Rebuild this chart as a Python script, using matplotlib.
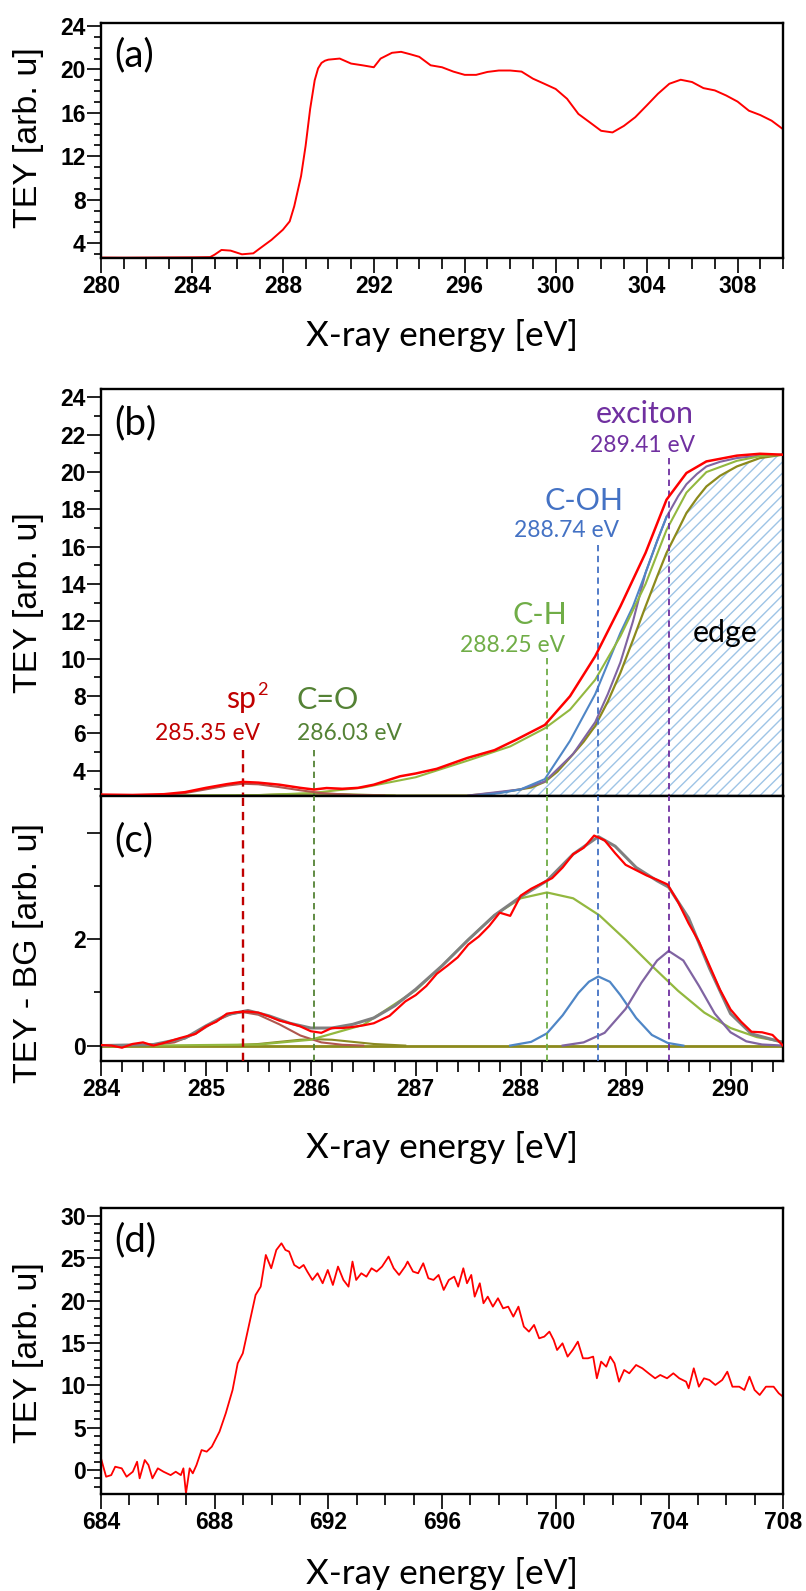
import matplotlib
matplotlib.use('Agg')
import matplotlib.pyplot as plt
from matplotlib import font_manager as fm
from matplotlib.ticker import MultipleLocator, FixedLocator

W, H, DPI = 806, 1591, 100

# ---------------- data ----------------
# (a) C K-edge overview
a_energy = [280.0, 281.0, 282.0, 283.0, 284.0, 284.8, 285.0, 285.3, 285.7, 286.2, 286.7, 287.0, 287.5, 288.0, 288.3,
            288.5, 288.8, 289.0, 289.2, 289.4, 289.55, 289.7, 289.85, 290.0, 290.5, 291.0, 291.5, 292.0, 292.3,
            292.8, 293.2, 293.6,
            294.0, 294.5, 295.0, 295.5, 296.0, 296.5, 297.0, 297.5, 298.0, 298.5, 299.0, 299.5, 300.0, 300.5, 301.0,
            301.5, 302.0, 302.5, 303.0, 303.5, 304.0, 304.5, 305.0, 305.5, 306.0, 306.5, 307.0, 307.5, 308.0, 308.5,
            309.0, 309.5, 310.0]
a_tey = [2.68, 2.67, 2.68, 2.69, 2.70, 2.72, 2.95, 3.38, 3.32, 2.98, 3.07, 3.54, 4.31, 5.24, 6.01,
         7.4, 10.18, 12.96, 16.36, 19.0, 20.1, 20.6, 20.8, 20.9, 21.0, 20.54, 20.38, 20.2, 21.0,
         21.53, 21.62, 21.4,
         21.16, 20.38, 20.2, 19.8, 19.5, 19.5, 19.77, 19.9, 19.9, 19.8, 19.15, 18.68, 18.2, 17.3, 15.9,
         15.13, 14.35, 14.2, 14.8, 15.6, 16.67, 17.76, 18.68, 19.05, 18.84, 18.28, 18.07, 17.6, 17.04, 16.2,
         15.8, 15.28, 14.5]

# (b) measured spectrum and cumulative fit curves
b_meas_x = [284.0, 284.3, 284.6, 284.8, 285.0, 285.2, 285.35, 285.5, 285.7, 285.9, 286.03, 286.15, 286.3, 286.45,
            286.6, 286.85, 287.0, 287.2, 287.49, 287.75, 287.96, 288.23, 288.47, 288.71, 288.95, 289.19, 289.39,
            289.58, 289.77, 290.06, 290.28, 290.5]
b_meas_y = [2.72, 2.70, 2.74, 2.85, 3.08, 3.28, 3.40, 3.36, 3.25, 3.08, 2.99, 3.07, 3.03, 3.08,
            3.25, 3.7, 3.85, 4.1, 4.68, 5.1, 5.67, 6.45, 7.99, 10.13, 12.8, 15.67, 18.52,
            19.95, 20.57, 20.88, 20.98, 20.93]
b_edge_x = [284.0, 287.5, 287.8, 288.0, 288.1, 288.23, 288.35, 288.47, 288.6, 288.71, 288.83, 288.95, 289.07,
            289.19, 289.3, 289.39, 289.5, 289.58, 289.68, 289.77, 289.9, 290.06, 290.28, 290.5]
b_edge_y = [2.66, 2.67, 2.83, 3.0, 3.1, 3.4, 3.95, 4.7, 5.55, 6.4, 7.7, 9.24, 11.0,
            12.8, 14.4, 15.67, 16.9, 17.81, 18.6, 19.23, 19.8, 20.3, 20.75, 20.93]
b_exc_x = [287.5, 288.0, 288.23, 288.5, 288.71, 288.83, 288.95, 289.07, 289.19, 289.3, 289.39, 289.5, 289.58,
           289.68, 289.77, 289.9, 290.06, 290.28, 290.5]
b_exc_y = [2.67, 3.0, 3.42, 4.9, 6.6, 8.1, 9.8, 12.0, 14.6, 16.3, 17.6, 18.7, 19.35,
           19.9, 20.3, 20.55, 20.75, 20.88, 20.93]
b_coh_x = [287.6, 287.8, 288.0, 288.23, 288.47, 288.71, 288.95, 289.07, 289.19, 289.3, 289.39]
b_coh_y = [2.68, 2.8, 3.0, 3.55, 5.6, 8.1, 11.38, 12.8, 14.6, 16.3, 17.6]
b_ch_x = [284.0, 285.5, 286.0, 286.5, 287.0, 287.5, 287.9, 288.23, 288.47, 288.71, 288.95, 289.19, 289.39,
          289.58, 289.77, 290.06, 290.28, 290.5]
b_ch_y = [2.66, 2.69, 2.8, 3.1, 3.65, 4.55, 5.3, 6.27, 7.27, 8.87, 11.2, 14.0, 16.9,
          18.9, 20.0, 20.6, 20.85, 20.93]
b_sp2_x = [284.3, 284.6, 284.8, 285.0, 285.2, 285.35, 285.5, 285.7, 285.9, 286.1, 286.4, 286.7]
b_sp2_y = [2.66, 2.7, 2.8, 3.0, 3.2, 3.3, 3.27, 3.12, 2.95, 2.8, 2.7, 2.67]
b_co_x = [285.3, 285.8, 286.03, 286.3, 286.8]
b_co_y = [2.67, 2.75, 2.78, 2.75, 2.67]

# (c) background-subtracted spectrum and Gaussian components
c_meas_x = [284.0, 284.1, 284.2, 284.3, 284.4, 284.5, 284.6, 284.75, 284.9,
            285.0, 285.1, 285.2, 285.3, 285.4, 285.5, 285.6, 285.7, 285.8, 285.9, 286.0, 286.1, 286.2, 286.3,
            286.4, 286.5, 286.6, 286.75, 286.9,
            287.0, 287.1, 287.2, 287.3, 287.4, 287.5, 287.6, 287.7, 287.8, 287.9, 288.0, 288.1, 288.2, 288.3,
            288.4, 288.5, 288.6, 288.7, 288.8, 288.9, 289.0, 289.1, 289.2, 289.3, 289.4, 289.5, 289.6, 289.7,
            289.8, 289.9, 290.0, 290.1, 290.2, 290.3, 290.4, 290.5]
c_meas_y = [0.01, 0.0, -0.04, 0.03, 0.06, 0.0, 0.05, 0.14, 0.22,
            0.36, 0.45, 0.6, 0.63, 0.64, 0.62, 0.55, 0.47, 0.42, 0.36, 0.27, 0.24, 0.33, 0.33,
            0.35, 0.38, 0.42, 0.56, 0.83,
            0.95, 1.12, 1.35, 1.5, 1.66, 1.9, 2.05, 2.25, 2.5, 2.44, 2.82, 2.95, 3.05, 3.15,
            3.35, 3.6, 3.72, 3.95, 3.86, 3.62, 3.4, 3.3, 3.2, 3.12, 3.03, 2.7, 2.3, 1.95,
            1.5, 1.05, 0.68, 0.45, 0.26, 0.25, 0.2, 0.0]
c_fit_x = [284.0, 284.5, 284.8, 285.0, 285.2, 285.4, 285.6, 285.8, 286.0, 286.2, 286.4, 286.6, 286.8, 287.0,
           287.25, 287.5, 287.75, 288.0, 288.25, 288.5, 288.74, 288.9, 289.1, 289.3, 289.41, 289.6, 289.8,
           290.0, 290.2, 290.5]
c_fit_y = [0.0, 0.02, 0.14, 0.37, 0.58, 0.66, 0.56, 0.42, 0.33, 0.33, 0.4, 0.52, 0.75, 1.06,
           1.5, 1.99, 2.45, 2.8, 3.1, 3.6, 3.93, 3.75, 3.35, 3.1, 2.98, 2.4, 1.45,
           0.6, 0.22, 0.06]
c_base_x = [284.0, 290.5]
c_base_y = [0.0, 0.0]
c_sp2_x = [284.5, 284.7, 284.9, 285.1, 285.25, 285.35, 285.5, 285.7, 285.9, 286.1, 286.3, 286.5]
c_sp2_y = [0.01, 0.06, 0.22, 0.47, 0.6, 0.63, 0.58, 0.4, 0.19, 0.06, 0.015, 0.0]
c_co_x = [285.2, 285.5, 285.7, 285.9, 286.03, 286.2, 286.4, 286.6, 286.9]
c_co_y = [0.0, 0.03, 0.07, 0.11, 0.12, 0.11, 0.07, 0.03, 0.0]
c_ch_x = [284.5, 285.0, 285.5, 286.0, 286.5, 287.0, 287.25, 287.5, 287.75, 288.0, 288.25, 288.5, 288.75, 289.0,
          289.25, 289.5, 289.75, 290.0, 290.25, 290.5]
c_ch_y = [0.0, 0.01, 0.02, 0.11, 0.39, 1.04, 1.5, 1.99, 2.45, 2.77, 2.88, 2.77, 2.45, 1.99,
          1.5, 1.03, 0.62, 0.33, 0.16, 0.07]
c_coh_x = [287.9, 288.1, 288.25, 288.4, 288.55, 288.65, 288.74, 288.85, 288.95, 289.1, 289.25, 289.4, 289.55]
c_coh_y = [0.0, 0.07, 0.23, 0.57, 0.99, 1.2, 1.3, 1.2, 0.95, 0.52, 0.2, 0.05, 0.0]
c_exc_x = [288.4, 288.6, 288.8, 289.0, 289.15, 289.3, 289.41, 289.55, 289.7, 289.85, 290.0, 290.15, 290.3, 290.5]
c_exc_y = [0.0, 0.06, 0.24, 0.69, 1.18, 1.6, 1.78, 1.6, 1.12, 0.6, 0.25, 0.08, 0.02, 0.0]

# peak assignments
peak_names = ['sp', 'C=O', 'C-H', 'C-OH', 'exciton']
peak_energy = [285.35, 286.03, 288.25, 288.74, 289.41]
peak_energy_text = ['285.35 eV', '286.03 eV', '288.25 eV', '288.74 eV', '289.41 eV']

# (d) F K-edge
d_energy = [684.0, 684.18, 684.36, 684.5, 684.73, 684.9, 685.12, 685.27, 685.36, 685.54,
            685.67, 685.81, 686.0, 686.2, 686.45, 686.63, 686.81, 686.9, 686.99, 687.12,
            687.23, 687.36, 687.54, 687.72, 687.9, 688.17, 688.39, 688.63, 688.81, 688.99,
            689.17, 689.44, 689.62, 689.8, 689.99, 690.17, 690.35, 690.49, 690.62, 690.8,
            690.98, 691.13, 691.26, 691.44, 691.62, 691.8, 691.98, 692.16, 692.34, 692.53,
            692.71, 692.85, 692.98, 693.16, 693.34, 693.52, 693.7, 693.89, 694.12, 694.3,
            694.49, 694.7, 694.79, 694.98, 695.16, 695.34, 695.52, 695.7, 695.88, 696.06,
            696.24, 696.43, 696.57, 696.75, 696.88, 697.03, 697.15, 697.33, 697.46, 697.61,
            697.79, 697.97, 698.15, 698.33, 698.51, 698.69, 698.88, 699.06, 699.24, 699.42,
            699.6, 699.78, 699.93, 700.05, 700.24, 700.42, 700.6, 700.78, 700.96, 701.14,
            701.32, 701.45, 701.6, 701.78, 701.92, 702.07, 702.23, 702.41, 702.59, 702.83,
            703.05, 703.27, 703.5, 703.68, 703.92, 704.14, 704.35, 704.59, 704.68, 704.86,
            705.04, 705.22, 705.41, 705.62, 705.86, 706.04, 706.22, 706.46, 706.64, 706.82,
            707.0, 707.18, 707.4, 707.67, 707.85, 708.0]
d_tey = [1.38, -0.79, -0.6, 0.39, 0.2, -0.79, -0.2, 0.98, -0.98, 1.18,
         0.59, -0.98, 0.2, -0.2, -0.6, -0.2, -0.6, 0.2, -2.76, 0.2,
         -0.39, 0.59, 2.36, 2.17, 2.76, 4.53, 6.69, 9.45, 12.6, 13.78,
         16.54, 20.67, 21.65, 25.39, 23.82, 25.98, 26.77, 25.98, 25.79, 24.21,
         23.82, 24.21, 23.43, 22.44, 23.23, 22.05, 23.62, 21.85, 24.02, 22.44,
         21.65, 24.61, 22.44, 23.23, 22.83, 23.82, 23.43, 24.02, 25.2, 23.82,
         23.03, 24.02, 24.61, 23.43, 23.23, 24.41, 22.64, 22.44, 23.03, 21.26,
         22.44, 22.83, 21.65, 23.82, 22.05, 23.03, 20.47, 22.05, 19.69, 20.47,
         19.29, 20.28, 19.09, 19.29, 18.11, 19.29, 16.93, 16.34, 17.13, 15.55,
         15.75, 16.34, 15.35, 14.17, 14.96, 13.39, 14.17, 15.16, 13.19, 13.19,
         13.39, 10.83, 12.8, 12.2, 13.39, 12.6, 10.43, 11.81, 11.42, 12.4,
         12.01, 11.42, 10.83, 11.22, 10.83, 11.42, 10.83, 10.43, 9.65, 12.01,
         9.84, 10.83, 10.63, 10.04, 10.63, 11.61, 9.84, 9.84, 9.45, 11.02,
         9.45, 8.86, 9.84, 9.84, 9.06, 8.66]

# ---------------- style ----------------
installed = {f.name for f in fm.fontManager.ttflist}
if 'Liberation Sans Narrow' in installed:
    TICK_FAMILY, TICK_SIZE = 'Liberation Sans Narrow', 18.5
else:
    TICK_FAMILY, TICK_SIZE = 'Liberation Sans', 16.5

plt.rcParams['font.family'] = ['Liberation Sans', 'DejaVu Sans']
plt.rcParams['hatch.linewidth'] = 1.0

RED = '#FF0000'
COL_SP2_TXT, COL_CO_TXT, COL_CH_TXT, COL_COH_TXT, COL_EXC_TXT = '#C00000', '#548235', '#70AD47', '#4472C4', '#7030A0'
COL_SP2, COL_CO, COL_CH, COL_COH, COL_EXC = '#B0564E', '#8A8A22', '#93B83F', '#4F86C6', '#8064A2'
COL_EDGE = '#8C8A1C'
COL_HATCH = '#9EC4E6'
LBL_FONT = ['Lato', 'DejaVu Sans']

fig = plt.figure(figsize=(W / DPI, H / DPI), dpi=DPI)


def rect(top, bottom, left=101, right=783):
    return [left / W, 1 - bottom / H, (right - left) / W, (bottom - top) / H]


def ftext(x, y, s, **kw):
    kw.setdefault('fontweight', 'normal')
    return fig.text(x / W, 1 - y / H, s, **kw)


def style(ax, xmaj, xmin, ymaj=None, ymin=None, xlabels=True):
    for sp in ax.spines.values():
        sp.set_linewidth(1.7)
        sp.set_color('black')
    ax.xaxis.set_major_locator(MultipleLocator(xmaj))
    ax.xaxis.set_minor_locator(MultipleLocator(xmin))
    if ymaj is not None:
        ax.yaxis.set_major_locator(MultipleLocator(ymaj))
        ax.yaxis.set_minor_locator(MultipleLocator(ymin))
    ax.tick_params(which='both', direction='out', top=False, right=False, width=1.4,
                   labelsize=TICK_SIZE, pad=1.0, color='#222222')
    ax.tick_params(axis='y', which='major', length=10)
    ax.tick_params(axis='y', which='minor', length=5)
    ax.tick_params(axis='x', which='major', length=11)
    ax.tick_params(axis='x', which='minor', length=8)
    if not xlabels:
        ax.tick_params(axis='x', labelbottom=False)


def bold_ticks(ax):
    for lab in ax.get_xticklabels() + ax.get_yticklabels():
        lab.set_fontfamily(TICK_FAMILY)
        lab.set_fontweight('bold')


ax_a = fig.add_axes(rect(22.5, 258))
ax_b = fig.add_axes(rect(389, 795.7))
ax_c = fig.add_axes(rect(795.7, 1061))
ax_d = fig.add_axes(rect(1208.3, 1494))

# ---- (a)
ax_a.plot(a_energy, a_tey, color=RED, lw=1.4)
ax_a.set_xlim(280, 310)
ax_a.set_ylim(2.64, 24.32)
style(ax_a, 4, 1, 4, 1)

# ---- (b)
ax_b.set_xlim(284, 290.5)
ax_b.set_ylim(2.66, 24.45)
ax_b.fill_between(b_edge_x, 2.66, b_edge_y, facecolor='none', edgecolor=COL_HATCH, hatch='///', linewidth=0, zorder=1)
ax_b.plot(b_edge_x, b_edge_y, color=COL_EDGE, lw=1.6, zorder=2)
ax_b.plot(b_co_x, b_co_y, color=COL_CO, lw=1.3, zorder=2)
ax_b.plot(b_exc_x, b_exc_y, color=COL_EXC, lw=1.5, zorder=2.1)
ax_b.plot(b_coh_x, b_coh_y, color=COL_COH, lw=1.5, zorder=2.2)
ax_b.plot(b_ch_x, b_ch_y, color=COL_CH, lw=1.5, zorder=2.3)
ax_b.plot(b_sp2_x, b_sp2_y, color=COL_SP2, lw=1.5, zorder=2.3)
ax_b.plot(b_meas_x, b_meas_y, color=RED, lw=1.8, zorder=5)
style(ax_b, 1, 0.2, 2, 1, xlabels=False)

# ---- (c)
ax_c.set_xlim(284, 290.5)
ax_c.set_ylim(-0.29, 4.7)
ax_c.plot(c_base_x, c_base_y, color=COL_EDGE, lw=2.0, zorder=1.5)
ax_c.plot(c_co_x, c_co_y, color=COL_CO, lw=1.5, zorder=2)
ax_c.plot(c_sp2_x, c_sp2_y, color=COL_SP2, lw=1.5, zorder=2)
ax_c.plot(c_ch_x, c_ch_y, color=COL_CH, lw=1.6, zorder=2)
ax_c.plot(c_coh_x, c_coh_y, color=COL_COH, lw=1.6, zorder=2)
ax_c.plot(c_exc_x, c_exc_y, color=COL_EXC, lw=1.6, zorder=2)
ax_c.plot(c_fit_x, c_fit_y, color='#808080', lw=2.2, zorder=2.5)
ax_c.plot(c_meas_x, c_meas_y, color=RED, lw=1.6, zorder=5)
style(ax_c, 1, 0.2)
ax_c.yaxis.set_major_locator(FixedLocator([0, 2, 4]))
ax_c.yaxis.set_minor_locator(FixedLocator([1, 3]))
ax_c.set_yticklabels(['0', '2', ''])

# ---- (d)
ax_d.plot(d_energy, d_tey, color=RED, lw=1.3)
ax_d.set_xlim(684, 708)
ax_d.set_ylim(-2.83, 30.9)
style(ax_d, 4, 1, 5, 1)

for ax in (ax_a, ax_b, ax_c, ax_d):
    bold_ticks(ax)

# ---- dashed peak markers spanning (b) and (c)
peak_line_cols = [COL_SP2_TXT, COL_CO_TXT, COL_CH_TXT, COL_COH_TXT, COL_EXC_TXT]
line_top_px = [750, 750, 658, 545, 458]
fig.canvas.draw()
inv_b = ax_b.transData.inverted()
for e, col, tp in zip(peak_energy, peak_line_cols, line_top_px):
    ytop = inv_b.transform((0, H - tp))[1]
    lw = 1.7 if col == COL_SP2_TXT else 1.3
    ax_b.plot([e, e], [ytop, 2.66], ls=(0, (3.5, 2.5)), color=col, lw=lw, zorder=3, clip_on=False)
    ax_c.plot([e, e], [-0.29, 4.7], ls=(0, (3.5, 2.5)), color=col, lw=lw, zorder=3)

# ---- text
ylab_kw = dict(rotation=90, ha='center', va='center', fontsize=24.5, family=['Liberation Sans'])
ftext(29, 138, 'TEY [arb. u]', **ylab_kw)
ftext(29, 603, 'TEY [arb. u]', **ylab_kw)
ftext(29, 953, 'TEY - BG [arb. u]', **ylab_kw)
ftext(29, 1353, 'TEY [arb. u]', **ylab_kw)

xl = [ftext(442, y, 'X-ray energy [eV]', ha='center', va='center', fontsize=24, family=LBL_FONT)
      for y in (335, 1148, 1573)]
letters = [ftext(114, y, s, ha='left', va='center', fontsize=24, family=LBL_FONT)
           for y, s in ((55, '(a)'), (423, '(b)'), (840, '(c)'), (1240, '(d)'))]

big = []
small = []
big.append(ftext(694, 423, peak_names[4], ha='right', va='baseline', color=COL_EXC_TXT, fontsize=22, family=LBL_FONT))
small.append(ftext(695, 452, peak_energy_text[4], ha='right', va='baseline', color=COL_EXC_TXT, fontsize=16, family=LBL_FONT))
big.append(ftext(624, 510, peak_names[3], ha='right', va='baseline', color=COL_COH_TXT, fontsize=22, family=LBL_FONT))
small.append(ftext(619, 537, peak_energy_text[3], ha='right', va='baseline', color=COL_COH_TXT, fontsize=16, family=LBL_FONT))
big.append(ftext(567, 624, peak_names[2], ha='right', va='baseline', color=COL_CH_TXT, fontsize=22, family=LBL_FONT))
small.append(ftext(565, 652, peak_energy_text[2], ha='right', va='baseline', color=COL_CH_TXT, fontsize=16, family=LBL_FONT))
big.append(ftext(725.5, 642, 'edge', ha='center', va='baseline', color='black', fontsize=22, family=LBL_FONT))
sp_t = ftext(226, 708, peak_names[0], ha='left', va='baseline', color=COL_SP2_TXT, fontsize=22, family=LBL_FONT)
big.append(sp_t)
big.append(ftext(297, 709, peak_names[1], ha='left', va='baseline', color=COL_CO_TXT, fontsize=22, family=LBL_FONT))
small.append(ftext(260, 740, peak_energy_text[0], ha='right', va='baseline', color=COL_SP2_TXT, fontsize=16, family=LBL_FONT))
small.append(ftext(297, 740, peak_energy_text[1], ha='left', va='baseline', color=COL_CO_TXT, fontsize=16, family=LBL_FONT))

# fit font sizes to the reference text widths
fig.canvas.draw()
r = fig.canvas.get_renderer()


def fit(group, ref, target):
    w = ref.get_window_extent(r).width
    s = ref.get_fontsize() * target / w
    for t in group:
        t.set_fontsize(s)
    return s


fit(xl, xl[0], 272)
fit(letters, letters[0], 40)
big_size = fit(big, big[0], 98)
fit(small, small[0], 105)
fig.canvas.draw()
sp_w = sp_t.get_window_extent(r)
ftext(sp_w.x1 + 1, 695, '2', ha='left', va='baseline', color=COL_SP2_TXT, fontsize=big_size * 0.6, family=LBL_FONT)

fig.savefig('out.png', dpi=DPI)
